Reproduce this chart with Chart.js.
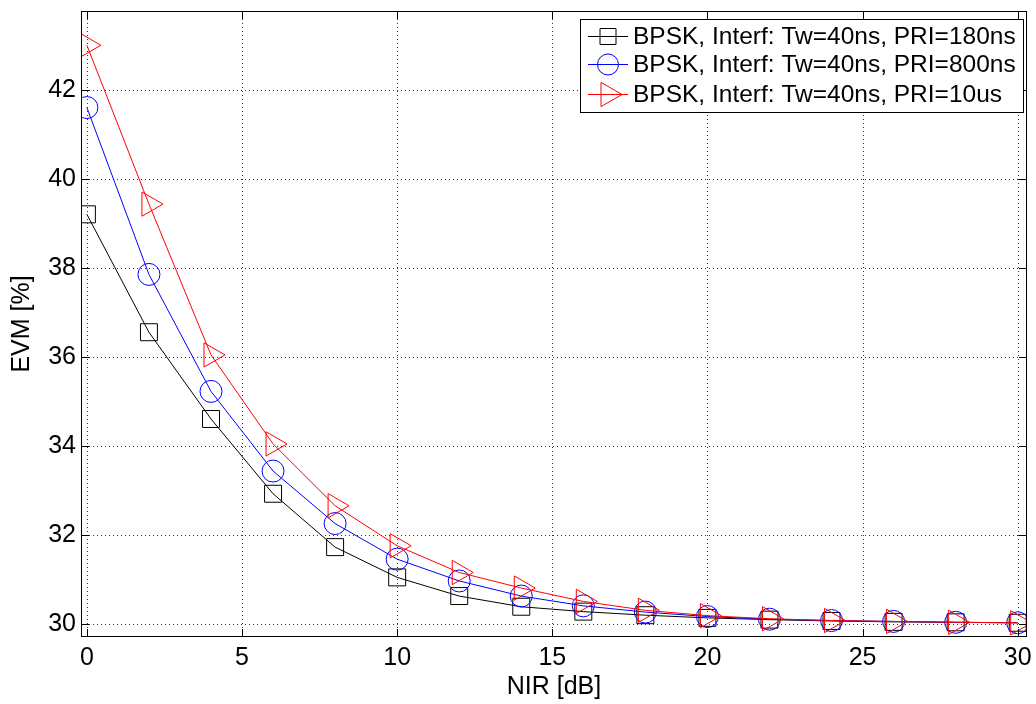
<!DOCTYPE html>
<html lang="en">
<head>
    <meta charset="UTF-8">
    <title>EVM vs NIR</title>
    <style>
        body {
            margin: 0;
            background-color: #fff;
        }
        #wrap {
            width: 1036px;
            height: 704px;
        }
    </style>
    <script src="https://cdn.jsdelivr.net/npm/chart.js"></script>
</head>
<body>
    <div id="wrap">
        <canvas id="graficoEvm" width="1036" height="704"></canvas>
    </div>

    <script>
        // Data
        const nir = [0, 2, 4, 6, 8, 10, 12, 14, 16, 18, 20, 22, 24, 26, 28, 30];
        const evmPri180 = [39.2, 36.55, 34.6, 32.92, 31.72, 31.04, 30.62, 30.38, 30.27, 30.19, 30.13, 30.09, 30.06, 30.04, 30.03, 30.02];
        const evmPri800 = [41.6, 37.85, 35.22, 33.43, 32.25, 31.45, 30.96, 30.62, 30.4, 30.26, 30.16, 30.1, 30.07, 30.05, 30.03, 30.02];
        const evmPri10us = [43.0, 39.43, 36.04, 34.04, 32.65, 31.75, 31.15, 30.8, 30.5, 30.3, 30.18, 30.11, 30.07, 30.05, 30.03, 30.02];
        const seriesNames = [
            'BPSK, Interf: Tw=40ns, PRI=180ns',
            'BPSK, Interf: Tw=40ns, PRI=800ns',
            'BPSK, Interf: Tw=40ns, PRI=10us'
        ];
        const xTicks = [0, 5, 10, 15, 20, 25, 30];
        const yTicks = [30, 32, 34, 36, 38, 40, 42];

        const fonte = '"Liberation Sans", Arial, sans-serif';

        function pontos(valores) {
            return nir.map((x, i) => ({ x: x, y: valores[i] }));
        }

        // desenha um marcador (usado na legenda)
        function marcador(ctx, tipo, x, y) {
            ctx.beginPath();
            if (tipo === 'rect') {
                ctx.rect(x - 8, y - 8, 16, 16);
            } else if (tipo === 'circle') {
                ctx.arc(x, y, 10.5, 0, Math.PI * 2);
            } else {
                const r = 14;
                ctx.moveTo(x + r, y);
                ctx.lineTo(x - r / 2, y + r * 0.866);
                ctx.lineTo(x - r / 2, y - r * 0.866);
                ctx.closePath();
            }
            ctx.stroke();
        }

        // grade pontilhada antes das series
        const gradePontilhada = {
            id: 'gradePontilhada',
            beforeDatasetsDraw(chart) {
                const ctx = chart.ctx;
                const a = chart.chartArea;
                const sx = chart.scales.x;
                const sy = chart.scales.y;
                ctx.save();
                ctx.strokeStyle = '#333';
                ctx.lineWidth = 1;
                ctx.setLineDash([1, 3]);
                ctx.beginPath();
                xTicks.forEach(v => {
                    const px = Math.round(sx.getPixelForValue(v)) + 0.5;
                    ctx.moveTo(px, a.top);
                    ctx.lineTo(px, a.bottom);
                });
                yTicks.forEach(v => {
                    const py = Math.round(sy.getPixelForValue(v)) + 0.5;
                    ctx.moveTo(a.left, py);
                    ctx.lineTo(a.right, py);
                });
                ctx.stroke();
                ctx.restore();
            }
        };

        // caixa, ticks internos, titulos e legenda no estilo MATLAB
        const estiloMatlab = {
            id: 'estiloMatlab',
            afterDraw(chart) {
                const ctx = chart.ctx;
                const a = chart.chartArea;
                const sx = chart.scales.x;
                const sy = chart.scales.y;
                ctx.save();
                ctx.strokeStyle = '#000';
                ctx.lineWidth = 1;
                ctx.strokeRect(a.left + 0.5, a.top + 0.5, a.right - a.left - 1, a.bottom - a.top - 1);
                const tl = 8;
                ctx.beginPath();
                xTicks.forEach(v => {
                    const px = Math.round(sx.getPixelForValue(v)) + 0.5;
                    ctx.moveTo(px, a.bottom);
                    ctx.lineTo(px, a.bottom - tl);
                    ctx.moveTo(px, a.top);
                    ctx.lineTo(px, a.top + tl);
                });
                yTicks.forEach(v => {
                    const py = Math.round(sy.getPixelForValue(v)) + 0.5;
                    ctx.moveTo(a.left, py);
                    ctx.lineTo(a.left + tl, py);
                    ctx.moveTo(a.right, py);
                    ctx.lineTo(a.right - tl, py);
                });
                ctx.stroke();

                // titulos dos eixos
                ctx.fillStyle = '#000';
                ctx.font = '25px ' + fonte;
                ctx.textAlign = 'center';
                ctx.textBaseline = 'middle';
                ctx.fillText('NIR [dB]', (a.left + a.right) / 2, 687);
                ctx.save();
                ctx.translate(22, (a.top + a.bottom) / 2);
                ctx.rotate(-Math.PI / 2);
                ctx.fillText('EVM [%]', 0, 0);
                ctx.restore();

                // legenda
                const lx = 580, ly = 19, lw = 443, lh = 93;
                ctx.fillStyle = '#fff';
                ctx.fillRect(lx, ly, lw, lh);
                ctx.strokeStyle = '#000';
                ctx.strokeRect(lx + 0.5, ly + 0.5, lw, lh);
                ctx.font = '24.5px ' + fonte;
                const linhas = [36, 64, 94];
                chart.data.datasets.forEach((ds, i) => {
                    const yy = linhas[i];
                    ctx.strokeStyle = ds.borderColor;
                    ctx.lineWidth = 1;
                    ctx.beginPath();
                    ctx.moveTo(588, yy + 0.5);
                    ctx.lineTo(628, yy + 0.5);
                    ctx.stroke();
                    marcador(ctx, ds.pointStyle, 608, yy + 0.5);
                    ctx.fillStyle = '#000';
                    ctx.textAlign = 'left';
                    ctx.fillText(ds.label, 633, yy + 1);
                });
                ctx.restore();
            }
        };

        const ctxEvm = document.getElementById('graficoEvm').getContext('2d');
        const graficoEvm = new Chart(ctxEvm, {
            type: 'line',
            data: {
                datasets: [{
                    label: seriesNames[0],
                    data: pontos(evmPri180),
                    borderColor: '#000',
                    pointStyle: 'rect',
                    pointRadius: 12,
                    order: 2
                }, {
                    label: seriesNames[1],
                    data: pontos(evmPri800),
                    borderColor: '#0000ff',
                    pointStyle: 'circle',
                    pointRadius: 11,
                    order: 1
                }, {
                    label: seriesNames[2],
                    data: pontos(evmPri10us),
                    borderColor: '#ff0000',
                    pointStyle: 'triangle',
                    pointRotation: 90,
                    pointRadius: 14,
                    order: 0
                }].map(ds => Object.assign({
                    borderWidth: 1,
                    pointBorderWidth: 1,
                    pointBorderColor: ds.borderColor,
                    pointBackgroundColor: 'rgba(0,0,0,0)',
                    fill: false,
                    tension: 0
                }, ds))
            },
            options: {
                responsive: false,
                animation: false,
                layout: { autoPadding: false, padding: { left: 0, right: 9, top: 11, bottom: 0 } },
                plugins: {
                    legend: { display: false },
                    tooltip: { enabled: false }
                },
                scales: {
                    x: {
                        type: 'linear',
                        min: -0.19,
                        max: 30.3,
                        afterBuildTicks: s => { s.ticks = xTicks.map(v => ({ value: v })); },
                        afterFit: s => { s.height = 67; s.paddingLeft = 0; s.paddingRight = 0; },
                        grid: { display: false, drawTicks: false },
                        border: { display: false },
                        ticks: {
                            color: '#000',
                            padding: 6,
                            maxRotation: 0,
                            font: { family: fonte, size: 25 }
                        }
                    },
                    y: {
                        min: 29.7,
                        max: 43.77,
                        afterBuildTicks: s => { s.ticks = yTicks.map(v => ({ value: v })); },
                        afterFit: s => { s.width = 81; s.paddingTop = 0; s.paddingBottom = 0; },
                        grid: { display: false, drawTicks: false },
                        border: { display: false },
                        ticks: {
                            color: '#000',
                            padding: 5,
                            font: { family: fonte, size: 25 }
                        }
                    }
                }
            },
            plugins: [gradePontilhada, estiloMatlab]
        });
    </script>
</body>
</html>
